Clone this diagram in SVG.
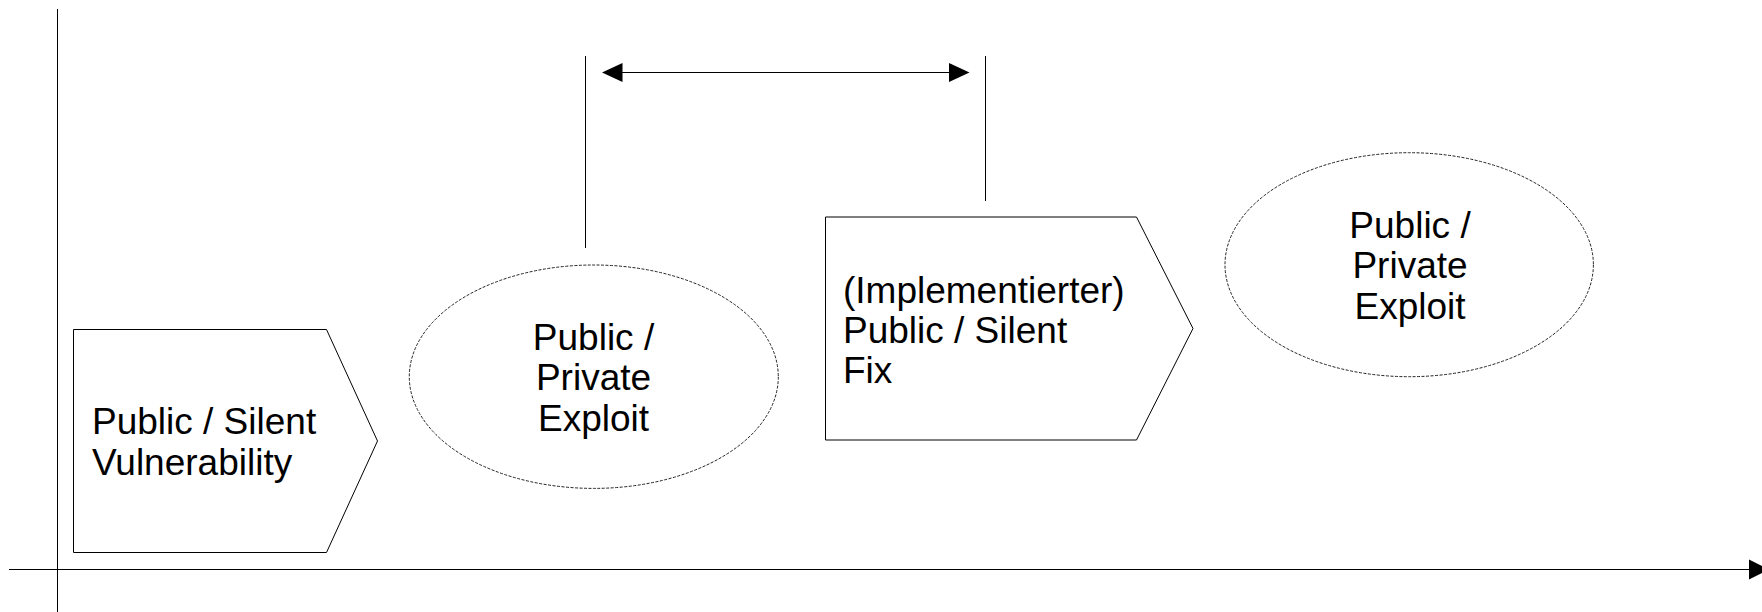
<svg xmlns="http://www.w3.org/2000/svg" width="1762" height="612" viewBox="0 0 1762 612">
  <style>
    .shape { fill: #ffffff; stroke: #000000; stroke-width: 1; }
    .oval { fill: #ffffff; stroke: #222222; stroke-width: 1; stroke-dasharray: 3 1.5; }
    .line { fill: none; stroke: #000000; stroke-width: 1; }
    .head { fill: #000000; stroke: none; }
    .label { font-family: "Liberation Sans", Arial, sans-serif; font-size: 37px; fill: #000000; }
    .mid { text-anchor: middle; }
  </style>

  <g id="connectors">
    <!-- time axis -->
    <line class="line" x1="9" y1="569.5" x2="1752" y2="569.5"/>
    <polygon class="head" points="1749,559.5 1769,569.5 1749,579.5"/>
    <!-- vertical axis -->
    <line class="line" x1="57.5" y1="9" x2="57.5" y2="612"/>
    <!-- span markers -->
    <line class="line" x1="585.5" y1="56" x2="585.5" y2="248"/>
    <line class="line" x1="985.5" y1="56" x2="985.5" y2="201"/>
    <!-- double-headed span arrow -->
    <line class="line" x1="620" y1="72.5" x2="951" y2="72.5"/>
    <polygon class="head" points="622.5,63 602,72.5 622.5,82"/>
    <polygon class="head" points="949,63 969.5,72.5 949,82"/>
  </g>

  <g id="vulnerability">
    <polygon class="shape" points="73.5,329.5 326.5,329.5 377.5,441 326.5,552.5 73.5,552.5"/>
    <text class="label" x="92" y="434">Public / Silent</text>
    <text class="label" x="92" y="474.5">Vulnerability</text>
  </g>

  <g id="exploit-1">
    <ellipse class="oval" cx="593.8" cy="376.7" rx="184.5" ry="111.7"/>
    <text class="label mid" x="593.5" y="349.5">Public /</text>
    <text class="label mid" x="593.5" y="390">Private</text>
    <text class="label mid" x="593.5" y="430.5">Exploit</text>
  </g>

  <g id="fix">
    <polygon class="shape" points="825.5,217 1136.5,217 1193,328.5 1136.5,440 825.5,440"/>
    <text class="label" x="843" y="302.5">(Implementierter)</text>
    <text class="label" x="843" y="342.5">Public / Silent</text>
    <text class="label" x="843" y="382.5">Fix</text>
  </g>

  <g id="exploit-2">
    <ellipse class="oval" cx="1409.2" cy="264.7" rx="184.2" ry="112"/>
    <text class="label mid" x="1410" y="238">Public /</text>
    <text class="label mid" x="1410" y="278">Private</text>
    <text class="label mid" x="1410" y="318.5">Exploit</text>
  </g>
</svg>
